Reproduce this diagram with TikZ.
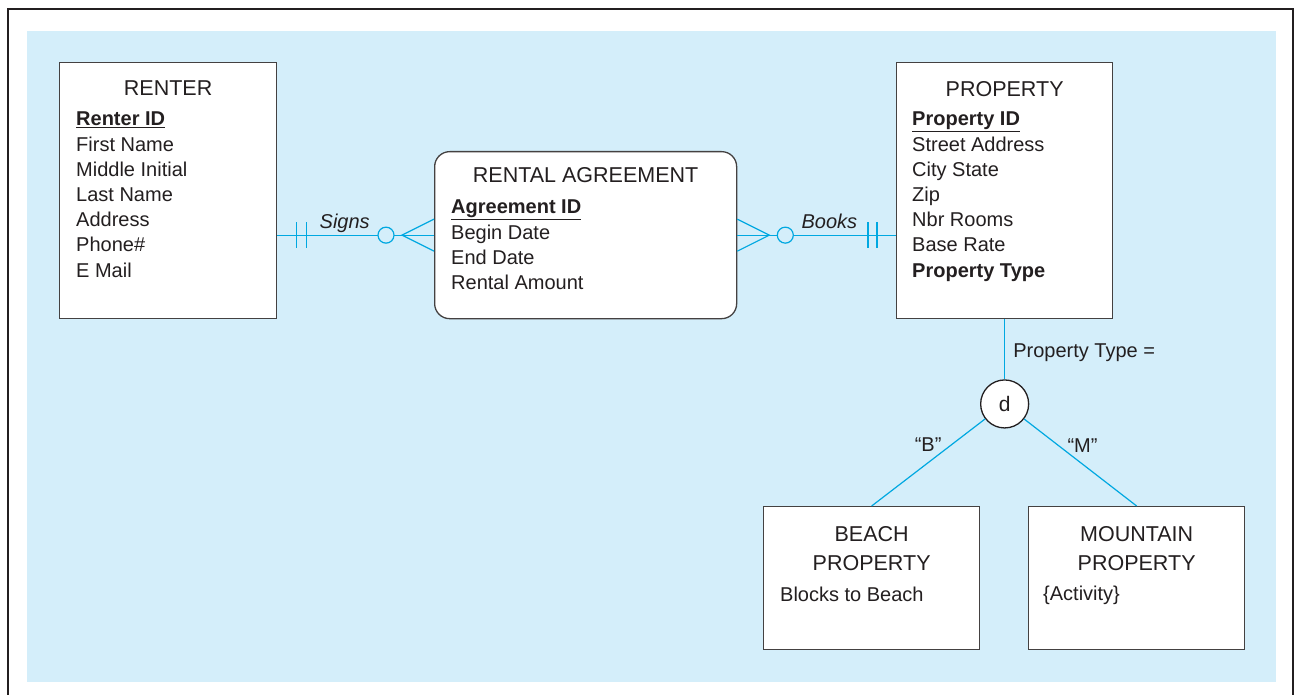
\documentclass[tikz,border=0pt]{standalone}
\usepackage{fontspec}
\setmainfont{Liberation Sans}
\usetikzlibrary{positioning,calc}

\definecolor{panelblue}{RGB}{212,238,250}
\definecolor{linkblue}{RGB}{0,168,225}
\definecolor{ink}{RGB}{35,31,32}

\tikzset{
  entity/.style={draw=ink!85, line width=1.3pt, fill=white, inner sep=0pt, anchor=north west},
  enttitle/.style={inner sep=0pt, text=ink, align=center, font=\fontsize{21.5}{29}\selectfont},
  attrlist/.style={inner sep=0pt, text=ink, align=left, font=\fontsize{20}{25.2}\selectfont},
  link/.style={draw=linkblue, line width=1.2pt},
  relname/.style={inner sep=0pt, anchor=base, yshift=7pt, text=ink, font=\fontsize{20}{24}\selectfont\itshape},
  sublabel/.style={inner sep=0pt, text=ink, font=\fontsize{20}{24}\selectfont},
  subtype/.style={circle, draw=ink, line width=1.3pt, fill=white, minimum size=48pt, inner sep=0pt, text=ink, font=\fontsize{21}{24}\selectfont},
}

\begin{document}
\begin{tikzpicture}[x=1pt, y=-1pt]
  \useasboundingbox (0,0) rectangle (1300,695);
  \draw[line width=2.4pt, ink] (8,9) rectangle (1293,720);
  \fill[panelblue] (27,31) rectangle (1276,682);

  % entities
  \node[entity, minimum width=217pt, minimum height=256pt] (renter) at (59,62) {};
  \node[entity, rounded corners=15pt, minimum width=302pt, minimum height=167pt] (agree) at (434,151) {};
  \node[entity, minimum width=216pt, minimum height=256pt] (property) at (896,62) {};
  \node[entity, minimum width=216pt, minimum height=143pt] (beach) at (763,506) {};
  \node[entity, minimum width=216pt, minimum height=143pt] (mountain) at (1028,506) {};

  \node[enttitle, below=19pt of renter.north] (renterT) {RENTER};
  \node[attrlist, below right=50pt and 17pt of renter.north west] (renterA)
    {\underline{\textbf{Renter ID}}\\First Name\\Middle Initial\\Last Name\\Address\\Phone\#\\E Mail};

  \node[enttitle, below=16pt of agree.north] (agreeT) {RENTAL AGREEMENT};
  \node[attrlist, below right=49pt and 17pt of agree.north west] (agreeA)
    {\underline{\textbf{Agreement ID}}\\Begin Date\\End Date\\Rental Amount};

  \node[enttitle, below=19pt of property.north] (propertyT) {PROPERTY};
  \node[attrlist, below right=50pt and 16pt of property.north west] (propertyA)
    {\underline{\textbf{Property ID}}\\Street Address\\City State\\Zip\\Nbr Rooms\\Base Rate\\\textbf{Property Type}};

  \node[enttitle, below=20pt of beach.north] (beachT) {BEACH\\PROPERTY};
  \node[attrlist, below right=81pt and 17pt of beach.north west] (beachA) {Blocks to Beach};

  \node[enttitle, below=20pt of mountain.north] (mountainT) {MOUNTAIN\\PROPERTY};
  \node[attrlist, below right=80pt and 15pt of mountain.north west] (mountainA) {\{Activity\}};

  % Signs
  \coordinate (signsA) at (renter.east |- agree.west);
  \draw[link] (signsA) -- node[relname, pos=0.43] {Signs} (agree.west);
  \draw[link] ($(signsA)+(19,-13)$) -- ($(signsA)+(19,13)$)
              ($(signsA)+(29,-13)$) -- ($(signsA)+(29,13)$);
  \draw[link] ($(agree.west)+(0,-16)$) -- ($(agree.west)+(-32,0)$) -- ($(agree.west)+(0,16)$);
  \draw[link, fill=panelblue] ($(agree.west)+(-48,0)$) circle (8pt);

  % Books
  \coordinate (booksB) at (property.west |- agree.east);
  \draw[link] (agree.east) -- node[relname, pos=0.58] {Books} (booksB);
  \draw[link] ($(agree.east)+(0,-16)$) -- ($(agree.east)+(32,0)$) -- ($(agree.east)+(0,16)$);
  \draw[link, fill=panelblue] ($(agree.east)+(48,0)$) circle (8pt);
  \draw[link] ($(booksB)+(-19,-13)$) -- ($(booksB)+(-19,13)$)
              ($(booksB)+(-28,-13)$) -- ($(booksB)+(-28,13)$);

  % subtypes
  \node[subtype, below=60pt of property] (dsub) {d};
  \draw[link] (property) -- node[sublabel, midway, anchor=west, xshift=8pt, yshift=-3pt] {Property Type =} (dsub);
  \draw[link] (dsub) -- node[sublabel, pos=0.3, left=9pt] {``B''} (beach.north);
  \draw[link] (dsub) -- node[sublabel, pos=0.3, right=9pt] {``M''} (mountain.north);
\end{tikzpicture}
\end{document}
